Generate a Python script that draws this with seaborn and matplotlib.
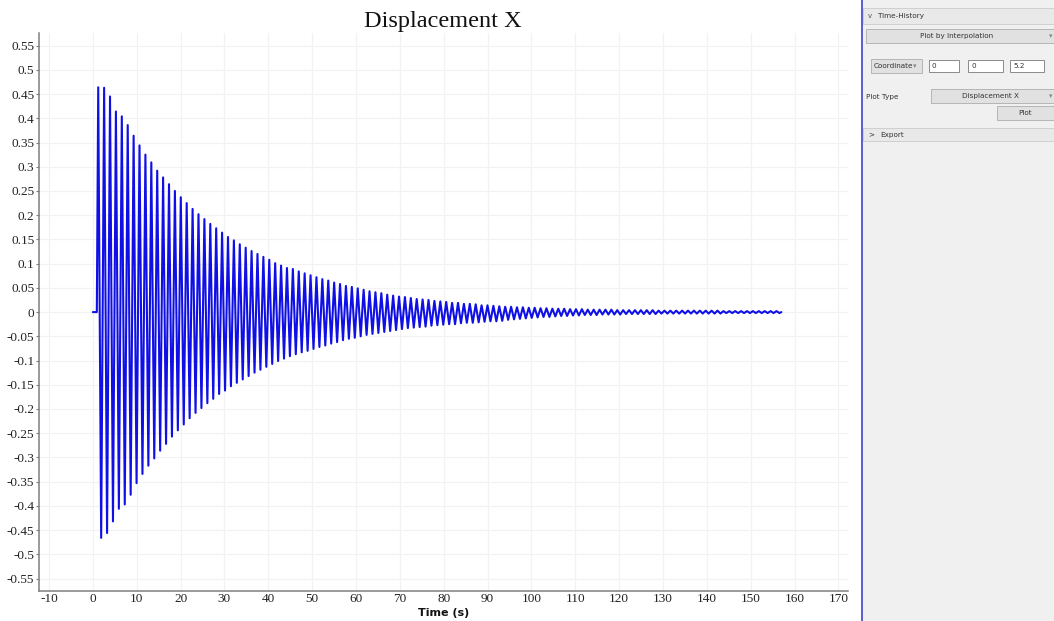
import numpy as np
import pandas as pd
import matplotlib
matplotlib.use("Agg")
import matplotlib.pyplot as plt
import seaborn as sns
from matplotlib.patches import Rectangle

# ---------------- data ----------------
title_text = "Displacement X"
x_label = "Time (s)"
x_ticks = [-10, 0, 10, 20, 30, 40, 50, 60, 70, 80, 90, 100, 110, 120, 130, 140, 150, 160, 170]
y_ticks = [-0.55, -0.5, -0.45, -0.4, -0.35, -0.3, -0.25, -0.2, -0.15, -0.1, -0.05,
           0, 0.05, 0.1, 0.15, 0.2, 0.25, 0.3, 0.35, 0.4, 0.45, 0.5, 0.55]
y_tick_labels = ["-0.55", "-0.5", "-0.45", "-0.4", "-0.35", "-0.3", "-0.25", "-0.2", "-0.15",
                 "-0.1", "-0.05", "0", "0.05", "0.1", "0.15", "0.2", "0.25", "0.3", "0.35",
                 "0.4", "0.45", "0.5", "0.55"]

# quiet lead-in before the motion starts, and final point
lead_in_time = [0.0, 0.9]
lead_in_disp = [0.0, 0.0]
end_time = [157.0]
end_disp = [0.0]

# oscillation timing
first_peak_time = 1.22
cycle_period = 1.345

# positive peak of each cycle
peak_disp = [
    0.464, 0.463, 0.445, 0.414, 0.404, 0.386, 0.364, 0.344, 0.325, 0.309,
    0.292, 0.278, 0.264, 0.250, 0.237, 0.225, 0.213, 0.202, 0.192, 0.182,
    0.173, 0.164, 0.155, 0.148, 0.140, 0.133, 0.126, 0.120, 0.114, 0.108,
    0.101, 0.096, 0.091,
    0.089, 0.084, 0.080, 0.076, 0.072, 0.068, 0.065, 0.061, 0.058, 0.054,
    0.052, 0.049, 0.046, 0.043, 0.041, 0.039, 0.036, 0.034, 0.032, 0.031,
    0.029, 0.027, 0.026, 0.025, 0.023, 0.022, 0.021, 0.019, 0.019, 0.017,
    0.017, 0.016, 0.014, 0.014, 0.013, 0.012,
    0.011, 0.011, 0.010, 0.010, 0.009, 0.009, 0.008,
    0.008, 0.007, 0.007, 0.007, 0.006, 0.006, 0.006,
    0.005, 0.005, 0.005, 0.005, 0.005, 0.004, 0.004,
    0.004, 0.004, 0.004, 0.004, 0.004, 0.003, 0.003,
    0.003, 0.003, 0.003, 0.003, 0.003, 0.003, 0.003,
    0.003, 0.003, 0.002, 0.002, 0.002, 0.002, 0.002,
    0.002, 0.002, 0.002, 0.002, 0.002,
]

# negative trough of each cycle
trough_disp = [
    -0.466, -0.456, -0.432, -0.406, -0.397, -0.377, -0.353, -0.334, -0.317, -0.302,
    -0.286, -0.272, -0.257, -0.244, -0.232, -0.219, -0.208, -0.198, -0.188, -0.179,
    -0.169, -0.162, -0.153, -0.146, -0.139, -0.132, -0.125, -0.119, -0.113, -0.107,
    -0.101, -0.096, -0.091, -0.087,
    -0.083, -0.080, -0.076, -0.072, -0.069, -0.065, -0.062, -0.058, -0.055, -0.053,
    -0.050, -0.047, -0.045, -0.043, -0.041, -0.039, -0.037, -0.035, -0.033, -0.032,
    -0.031, -0.030, -0.028, -0.027, -0.026, -0.025, -0.025, -0.023, -0.022, -0.022,
    -0.021, -0.020, -0.019, -0.019, -0.018,
    -0.016, -0.015, -0.014, -0.013, -0.012, -0.011, -0.010,
    -0.010, -0.009, -0.008, -0.008, -0.007, -0.007, -0.006,
    -0.006, -0.006, -0.005, -0.005, -0.005, -0.005, -0.004,
    -0.004, -0.004, -0.004, -0.004, -0.004, -0.003, -0.003,
    -0.003, -0.003, -0.003, -0.003, -0.003, -0.003, -0.003,
    -0.003, -0.003, -0.002, -0.002, -0.002, -0.002, -0.002,
    -0.002, -0.002, -0.002, -0.002, -0.002,
]

# ---------------- build the series ----------------
n_cycles = min(len(peak_disp), len(trough_disp))
cycle_idx = np.arange(n_cycles)
peak_time = first_peak_time + cycle_idx * cycle_period
trough_time = peak_time + cycle_period / 2.0

osc_time = np.empty(2 * n_cycles)
osc_disp = np.empty(2 * n_cycles)
osc_time[0::2] = peak_time
osc_time[1::2] = trough_time
osc_disp[0::2] = peak_disp[:n_cycles]
osc_disp[1::2] = trough_disp[:n_cycles]

df = pd.DataFrame({
    "time": np.concatenate([lead_in_time, osc_time, end_time]),
    "disp": np.concatenate([lead_in_disp, osc_disp, end_disp]),
})

# ---------------- figure ----------------
sns.set_theme(style="white")
plt.rcParams["font.family"] = ["DejaVu Sans"]

W, H = 1054, 621
fig = plt.figure(figsize=(W / 100, H / 100), dpi=100)
fig.patch.set_facecolor("white")

ax_left, ax_right, ax_top, ax_bottom = 38.5, 848, 33, 590.7
ax = fig.add_axes([ax_left / W, 1 - ax_bottom / H, (ax_right - ax_left) / W, (ax_bottom - ax_top) / H])
ax.set_facecolor("white")

sns.lineplot(data=df, x="time", y="disp", sort=False, estimator=None,
             color="#1010e6", linewidth=1.5, ax=ax)

ax.set_xlim(-12.4, 172.2)
ax.set_ylim(-0.575, 0.576)
ax.set_xticks(x_ticks)
ax.set_xticklabels([str(v) for v in x_ticks], fontfamily="Liberation Serif", fontsize=9.5, color="#222222")
ax.set_yticks(y_ticks)
ax.set_yticklabels(y_tick_labels, fontfamily="Liberation Serif", fontsize=9.5, color="#222222")
ax.grid(True, color="#f2f2f2", linewidth=0.9)
ax.set_axisbelow(True)
for s in ["top", "right"]:
    ax.spines[s].set_visible(False)
for s in ["left", "bottom"]:
    ax.spines[s].set_color("#7f7f7f")
    ax.spines[s].set_linewidth(1.1)
ax.tick_params(axis="y", which="both", direction="out", length=2.5, width=0.8, color="#7f7f7f", pad=0.5, left=True)
ax.tick_params(axis="x", which="both", length=0, pad=1.5)
ax.set_xlabel("")
ax.set_ylabel("")

fig.text(444 / W, 1 - 613 / H, x_label, ha="center", va="center",
         fontsize=8.0, fontweight="bold", color="#111111", family="DejaVu Sans")
fig.text(443 / W, 1 - 21 / H, title_text, ha="center", va="center",
         fontsize=17.5, color="#111111", family="Liberation Serif")

# ---------------- side panel (UI decoration) ----------------
pn = fig.add_axes([0, 0, 1, 1], zorder=-1)
pn.set_xlim(0, W)
pn.set_ylim(H, 0)
pn.axis("off")
pn.add_patch(Rectangle((862, 0), W - 862, H, facecolor="#f0f0f0", edgecolor="none"))
pn.plot([861.5, 861.5], [0, H], color="#5b5bd0", linewidth=1.4)

ui_font = dict(family="DejaVu Sans", fontsize=5.2, color="#333333")

def bar(x0, y0, x1, y1, fc="#e4e4e4", ec="#c4c4c4"):
    pn.add_patch(Rectangle((x0, y0), x1 - x0, y1 - y0, facecolor=fc, edgecolor=ec, linewidth=0.7))

bar(863, 8, W, 24, fc="#e9e9e9", ec="#d0d0d0")
pn.text(868, 15.5, "v", ha="left", va="center", family="DejaVu Sans", fontsize=5, color="#555555")
pn.text(878, 16, "Time-History", ha="left", va="center", **ui_font)

bar(866, 29, W, 43, fc="#e1e1e1", ec="#b5b5b5")
pn.text(957, 36, "Plot by Interpolation", ha="center", va="center", **ui_font)
pn.text(1049, 36, "▾", ha="left", va="center", family="DejaVu Sans", fontsize=5, color="#888888")

bar(871, 59, 922, 73, fc="#e1e1e1", ec="#b5b5b5")
pn.text(874, 66, "Coordinate", ha="left", va="center", **ui_font)
pn.text(913, 66, "▾", ha="left", va="center", family="DejaVu Sans", fontsize=5, color="#888888")
for bx0, bx1, val in [(929, 959, "0"), (968, 1003, "0"), (1010, 1044, "5.2")]:
    bar(bx0, 60, bx1, 72, fc="white", ec="#8a8a8a")
    pn.text(bx0 + 3, 66, val, ha="left", va="center", **ui_font)

pn.text(866, 97, "Plot Type", ha="left", va="center", **ui_font)
bar(931, 89, W, 103, fc="#e1e1e1", ec="#b5b5b5")
pn.text(990, 96, "Displacement X", ha="center", va="center", **ui_font)
pn.text(1049, 96, "▾", ha="left", va="center", family="DejaVu Sans", fontsize=5, color="#888888")

bar(997, 106, W, 120, fc="#e1e1e1", ec="#b5b5b5")
pn.text(1025, 113, "Plot", ha="center", va="center", **ui_font)

bar(863, 128, W, 141, fc="#e9e9e9", ec="#d0d0d0")
pn.text(868, 134.5, ">", ha="left", va="center", **ui_font)
pn.text(880, 134.5, "Export", ha="left", va="center", **ui_font)

fig.savefig("out.png", dpi=100, facecolor="white")
